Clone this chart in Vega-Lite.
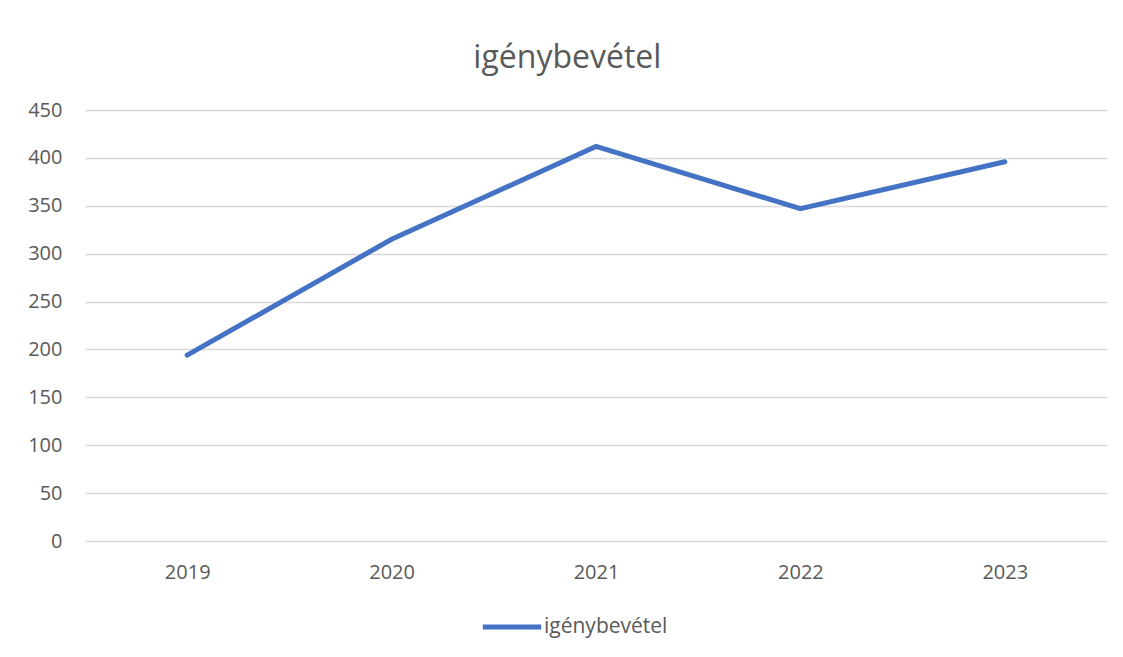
{
  "$schema": "https://vega.github.io/schema/vega-lite/v6.json",
  "autosize": {"type": "none"},
  "width": 1022,
  "height": 431,
  "padding": {"left": 85, "top": 110, "right": 16, "bottom": 116},
  "background": "white",
  "title": {"text": "igénybevétel", "anchor": "middle", "frame": "bounds", "fontSize": 32, "font": "Open Sans", "fontWeight": "normal", "color": "#595959", "offset": 25},
  "data": {"values": [
    {"year": "2019", "value": 194, "series": "igénybevétel"},
    {"year": "2020", "value": 315, "series": "igénybevétel"},
    {"year": "2021", "value": 412, "series": "igénybevétel"},
    {"year": "2022", "value": 347, "series": "igénybevétel"},
    {"year": "2023", "value": 396, "series": "igénybevétel"}
  ]},
  "mark": {"type": "line", "strokeWidth": 5, "strokeCap": "round", "strokeJoin": "miter"},
  "encoding": {
    "x": {"field": "year", "type": "ordinal", "scale": {"type": "point", "padding": 0.5},
      "axis": {"title": null, "labelAngle": 0, "domain": false, "ticks": false, "grid": false, "labelFont": "Open Sans", "labelFontSize": 20, "labelColor": "#595959", "labelPadding": 21}},
    "y": {"field": "value", "type": "quantitative", "scale": {"domain": [0, 450]},
      "axis": {"title": null, "values": [0, 50, 100, 150, 200, 250, 300, 350, 400, 450], "domain": false, "ticks": false, "gridColor": "#d9d9d9", "gridWidth": 1.3, "labelFont": "Open Sans", "labelFontSize": 20, "labelColor": "#595959", "labelPadding": 23}},
    "color": {"field": "series", "type": "nominal", "scale": {"range": ["#4472C4"]},
      "legend": {"title": null, "orient": "none", "legendX": 395, "legendY": 485, "direction": "horizontal", "symbolType": "stroke", "symbolSize": 3400, "symbolStrokeWidth": 5, "labelFont": "Open Sans", "labelFontSize": 21, "labelColor": "#595959", "labelOffset": 0}}
  },
  "config": {"view": {"stroke": null}}
}
